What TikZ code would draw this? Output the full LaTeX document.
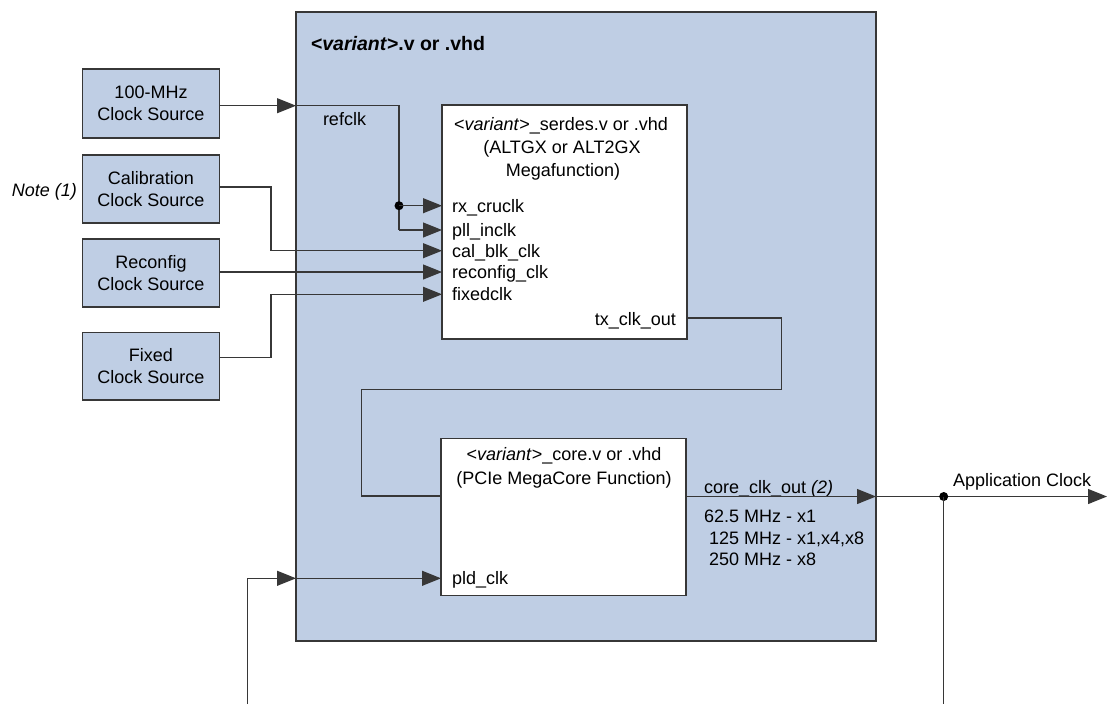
\documentclass[tikz,border=0pt]{standalone}
\usepackage{fontspec}
\setmainfont{Liberation Sans}
\usetikzlibrary{arrows.meta}
\definecolor{boxblue}{RGB}{191,206,228}
\definecolor{linegray}{RGB}{55,55,55}
\begin{document}
\begin{tikzpicture}[x=1pt,y=-1pt,
  every node/.style={inner sep=0pt, outer sep=0pt, font=\fontsize{18}{22}\selectfont},
  srcbox/.style={draw=linegray, fill=boxblue, line width=1.2pt, minimum width=136.6pt, anchor=north west, align=center},
  whitebox/.style={draw=linegray, fill=white, line width=1.2pt, anchor=north west},
  wire/.style={draw=linegray, line width=1.1pt},
  arr/.style={wire, -{Triangle[length=19pt,width=15pt]}},
  dot/.style={circle, fill=black, minimum size=9pt},
  lbl/.style={anchor=base west},
  ctr/.style={anchor=base},
]
\useasboundingbox (0,0) rectangle (1107,704);

% outer block
\node[draw=linegray, fill=boxblue, line width=1.2pt, anchor=north west,
      minimum width=580pt, minimum height=629pt] (outer) at (296,12) {};
\node[anchor=base west, font=\fontsize{19.5}{22}\selectfont\bfseries] (title) at (311,50)
  {<\textit{variant}>.v or .vhd};

% inner blocks
\node[whitebox, minimum width=245pt, minimum height=234pt] (serdes) at (442,105) {};
\node[whitebox, minimum width=245pt, minimum height=157pt] (core) at (441,438.3) {};

\node[ctr] (serdes1) at (561,130) {<\textit{variant}>\_serdes.v or .vhd};
\node[ctr] (serdes2) at (562,153) {(ALTGX or ALT2GX};
\node[ctr] (serdes3) at (563,176) {Megafunction)};
\node[ctr] (core1) at (564,460.7) {<\textit{variant}>\_core.v or .vhd};
\node[ctr] (core2) at (564,484) {(PCIe MegaCore Function)};

% source blocks
\node[srcbox, minimum height=69pt] (s100) at (82.7,69) {100-MHz\\Clock Source};
\node[srcbox, minimum height=68pt] (scal) at (82.7,155) {Calibration\\Clock Source};
\node[srcbox, minimum height=68pt] (srec) at (82.7,239) {Reconfig\\Clock Source};
\node[srcbox, minimum height=67.3pt] (sfix) at (82.7,332.7) {Fixed\\Clock Source};
\node[anchor=base east, font=\fontsize{18}{22}\selectfont\itshape] (note) at (77,196.7) {Note (1)};

% port coordinates
\coordinate (rx)  at (442,205.7);
\coordinate (pll) at (442,230);
\coordinate (cal) at (442,250.7);
\coordinate (rec) at (442,272);
\coordinate (fix) at (442,294.3);
\coordinate (tx)  at (687,318);
\coordinate (coreclk) at (686,496.5);
\coordinate (coreclkin) at (441,496);
\coordinate (pld) at (441,578.3);
\coordinate (refin) at (296,105.7);
\coordinate (pldin) at (296,578.3);
\coordinate (boxout) at (876,496.5);
\coordinate (appout) at (1107,496.5);
\coordinate (pldsrc) at (247.7,704);
\coordinate (appdown) at (943.7,704);

% port labels
\node[lbl] (lrx)  at (452,212.2) {rx\_cruclk};
\node[lbl] (lpll) at (452,236.5) {pll\_inclk};
\node[lbl] (lcal) at (452,257.2) {cal\_blk\_clk};
\node[lbl] (lrec) at (452,278.5) {reconfig\_clk};
\node[lbl] (lfix) at (452,300.8) {fixedclk};
\node[anchor=base east] (ltx) at (676,325) {tx\_clk\_out};
\node[lbl] (lref) at (323,125) {refclk};
\node[lbl] (lpld) at (452,584.8) {pld\_clk};
\node[lbl] (lcore) at (704,493) {core\_clk\_out \textit{(2)}};
\node[lbl] (f1) at (704,522.7) {62.5 MHz - x1};
\node[lbl] (f2) at (709,544.3) {125 MHz - x1,x4,x8};
\node[lbl] (f3) at (709,565.5) {250 MHz - x8};
\node[lbl] (lapp) at (953,486.7) {Application Clock};

% refclk connections
\draw[arr] (s100.east |- refin) -- (refin);
\draw[wire] (refin) -- (399,105.7) -- (399,230);
\node[dot] (jref) at (399,205.7) {};
\draw[arr] (jref.center) -- (rx);
\draw[arr] (399,230) -- (pll);

% calibration, reconfig, fixed
\draw[arr] (scal.east |- 0,187) -- (271,187) -- (271,250.7) -- (cal);
\draw[arr] (srec.east |- 0,272) -- (rec);
\draw[arr] (sfix.east |- 0,357.3) -- (271,357.3) -- (271,294.3) -- (fix);

% tx_clk_out loop to core
\draw[wire] (tx) -- (781.7,318) -- (781.7,389.7) -- (361.7,389.7) -- (361.7,496) -- (coreclkin);

% pld_clk
\draw[arr] (pldsrc) -- (247.7,578.3) -- (pldin);
\draw[arr] (pldin) -- (pld);

% core_clk_out
\draw[arr] (coreclk) -- (boxout);
\draw[arr] (boxout) -- (appout);
\node[dot] (japp) at (943.7,496.5) {};
\draw[wire] (japp.center) -- (appdown);
\end{tikzpicture}
\end{document}
